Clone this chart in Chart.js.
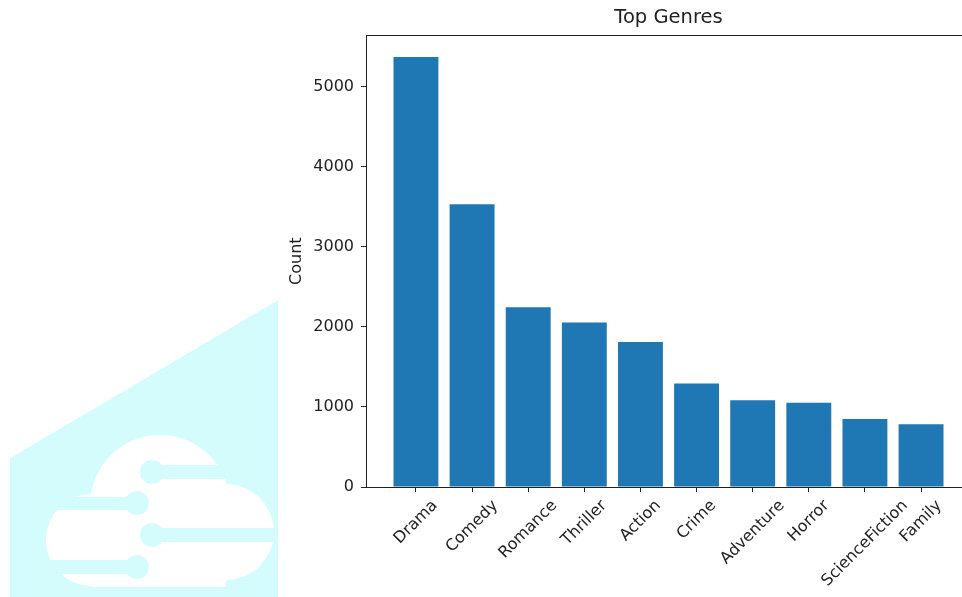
<!DOCTYPE html>
<html>
<head>
<meta charset="utf-8">
<script src="https://cdn.jsdelivr.net/npm/chart.js@4.4.1/dist/chart.umd.min.js"></script>
<style>
  html, body { margin: 0; padding: 0; background: #ffffff; width: 962px; height: 597px; overflow: hidden; }
  #logo { position: absolute; left: 0; top: 0; }
  #c { position: absolute; left: 0; top: 0; }
</style>
</head>
<body>
<!-- decorative logo in the lower-left corner -->
<svg id="logo" width="290" height="597" viewBox="0 0 290 597">
  <defs>
    <clipPath id="panel"><polygon points="10,458 278,300 278,597 10,597"/></clipPath>
  </defs>
  <g clip-path="url(#panel)">
    <polygon points="10,458 278,300 278,597 10,597" fill="#d4fcfc"/>
    <g fill="#ffffff">
      <circle cx="160" cy="505" r="70"/>
      <circle cx="226" cy="532" r="48"/>
      <circle cx="92" cy="540" r="46"/>
      <rect x="92" y="520" width="134" height="67"/>
    </g>
    <g fill="#d4fcfc">
      <circle cx="152" cy="472" r="12"/>
      <rect x="152" y="465" width="130" height="14"/>
      <circle cx="137" cy="503" r="12"/>
      <rect x="40" y="497" width="97" height="13"/>
      <circle cx="152" cy="535" r="12"/>
      <rect x="152" y="528" width="130" height="14"/>
      <circle cx="137" cy="567" r="12"/>
      <rect x="40" y="560" width="97" height="14"/>
    </g>
  </g>
</svg>
<canvas id="c" width="990" height="597"></canvas>
<script>
// Genre counts
const categories = ['Drama', 'Comedy', 'Romance', 'Thriller', 'Action', 'Crime', 'Adventure', 'Horror', 'ScienceFiction', 'Family'];
const counts = [5375, 3535, 2245, 2057, 1811, 1295, 1083, 1053, 849, 783];
const yTicks = [0, 1000, 2000, 3000, 4000, 5000];

const FONT = 'DejaVu Sans';
const INK = '#222222';
const TICK_SIZE = 16;

// Closed frame around the plot area (all four spines)
const framePlugin = {
  id: 'frame',
  afterDatasetsDraw(chart) {
    const { ctx, chartArea: a } = chart;
    ctx.save();
    ctx.strokeStyle = INK;
    ctx.lineWidth = 1;
    ctx.strokeRect(Math.round(a.left) + 0.5, Math.round(a.top) + 0.5,
                   Math.round(a.right - a.left), Math.round(a.bottom - a.top));
    ctx.restore();
  }
};

// Category labels rotated 45 degrees, centred under each tick
const xLabelPlugin = {
  id: 'xLabels',
  afterDraw(chart) {
    const { ctx, chartArea: a } = chart;
    const xs = chart.scales.x;
    ctx.save();
    ctx.font = TICK_SIZE + 'px "' + FONT + '"';
    ctx.fillStyle = INK;
    ctx.textAlign = 'center';
    ctx.textBaseline = 'middle';
    const top = a.bottom + 5 + 4.5;
    const h = TICK_SIZE * 1.17;
    categories.forEach((label, i) => {
      const w = ctx.measureText(label).width;
      const d = (w + h) / (2 * Math.SQRT2);
      ctx.save();
      ctx.translate(xs.getPixelForValue(i), top + d);
      ctx.rotate(-Math.PI / 4);
      ctx.fillText(label, 0, 0);
      ctx.restore();
    });
    ctx.restore();
  }
};

const axisGrid = { display: true, offset: false, drawOnChartArea: false, drawTicks: true, tickLength: 5, color: INK, lineWidth: 1 };

new Chart(document.getElementById('c'), {
  type: 'bar',
  data: {
    datasets: [{
      label: 'Count',
      data: categories.map((c, i) => ({ x: i, y: counts[i] })),
      backgroundColor: '#1f77b4',
      borderWidth: 0,
      categoryPercentage: 0.8,
      barPercentage: 1.0
    }]
  },
  options: {
    responsive: false,
    animation: false,
    devicePixelRatio: 1,
    layout: { padding: { left: 283, right: 19, top: 0, bottom: 0 } },
    plugins: {
      legend: { display: false },
      tooltip: { enabled: false },
      title: {
        display: true,
        fullSize: false,
        text: 'Top Genres',
        color: INK,
        font: { family: FONT, size: 19.5, weight: 'normal' },
        padding: { top: 6, bottom: 6 }
      }
    },
    scales: {
      x: {
        type: 'linear',
        offset: false,
        min: -0.89,
        max: categories.length - 1 + 0.89,
        afterBuildTicks: s => { s.ticks = categories.map((c, i) => ({ value: i })); },
        ticks: { display: false },
        grid: axisGrid,
        border: { display: true, color: INK, width: 1 },
        afterFit: s => { s.height = 110; }
      },
      y: {
        min: 0,
        max: Math.max(...counts) * 1.05,
        afterBuildTicks: s => { s.ticks = yTicks.map(v => ({ value: v })); },
        ticks: {
          color: INK,
          padding: 7,
          font: { family: FONT, size: TICK_SIZE },
          callback: v => String(v)
        },
        grid: axisGrid,
        border: { display: true, color: INK, width: 1 },
        title: {
          display: true,
          text: 'Count',
          color: INK,
          font: { family: FONT, size: TICK_SIZE },
          padding: { top: 4, bottom: 0 }
        },
        afterFit: s => { s.width = 83; }
      }
    }
  },
  plugins: [framePlugin, xLabelPlugin]
});
</script>
</body>
</html>
